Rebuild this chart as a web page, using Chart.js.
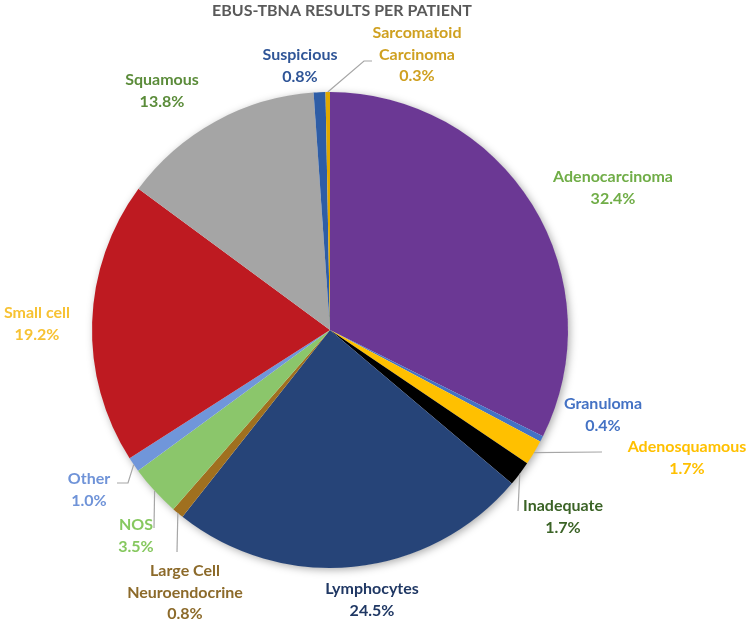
<!DOCTYPE html>
<html>
<head>
<meta charset="utf-8">
<script src="https://cdn.jsdelivr.net/npm/chart.js"></script>
<style>
  html, body { margin: 0; padding: 0; background: #fff; }
  #wrap { width: 752px; height: 624px; position: relative; }
</style>
</head>
<body>
<div id="wrap"><canvas id="chart" width="752" height="624"></canvas></div>
<script>
const title = "EBUS-TBNA RESULTS PER PATIENT";
const categories = [
  "Adenocarcinoma", "Granuloma", "Adenosquamous", "Inadequate", "Lymphocytes",
  "Large Cell Neuroendocrine", "NOS", "Other", "Small cell", "Squamous",
  "Suspicious", "Sarcomatoid Carcinoma"
];
const percents = [32.4, 0.4, 1.7, 1.7, 24.5, 0.8, 3.5, 1.0, 19.2, 13.8, 0.8, 0.3];

const sliceColors = [
  "#6b3894", "#4472c4", "#ffc000", "#000000", "#264478", "#a0701f",
  "#8bc66b", "#7096da", "#be1a21", "#a5a5a5", "#2e5da6", "#e0a800"
];
const labelColors = [
  "#70ad47", "#4472c4", "#ffc000", "#3b6326", "#203864", "#8c6a2a",
  "#86c85f", "#6f93d8", "#f7c233", "#5b8c3a", "#2f5597", "#cfa020"
];
// label lines and where they sit (centre x, first line y)
const labelLines = [
  ["Adenocarcinoma"], ["Granuloma"], ["Adenosquamous"], ["Inadequate"], ["Lymphocytes"],
  ["Large Cell", "Neuroendocrine"], ["NOS"], ["Other"], ["Small cell"], ["Squamous"],
  ["Suspicious"], ["Sarcomatoid", "Carcinoma"]
];
const labelPos = [
  [613, 177], [603, 404], [687, 447], [563, 506], [372, 589],
  [185, 571], [136, 525], [89, 479], [37, 313], [162, 80],
  [300, 55], [417, 33]
];
// leader lines: points after the slice edge point
const leaders = [
  null, null, [[602, 452]], [[518, 511]], null,
  [[177, 552]], [[154, 528]], [[128, 483], [117, 483]], null, null,
  null, [[364, 61], [372, 61]]
];

const pieShadow = {
  id: "pieShadow",
  beforeDatasetsDraw(chart) {
    const arc = chart.getDatasetMeta(0).data[0];
    const ctx = chart.ctx;
    ctx.save();
    ctx.shadowColor = "rgba(0,0,0,0.35)";
    ctx.shadowBlur = 9;
    ctx.shadowOffsetX = 2;
    ctx.shadowOffsetY = 2;
    ctx.fillStyle = "#ffffff";
    ctx.beginPath();
    ctx.arc(arc.x, arc.y, arc.outerRadius - 0.5, 0, Math.PI * 2);
    ctx.fill();
    ctx.restore();
  }
};

const outsideLabels = {
  id: "outsideLabels",
  afterDatasetsDraw(chart) {
    const ctx = chart.ctx;
    const arcs = chart.getDatasetMeta(0).data;
    ctx.save();
    // leaders
    ctx.strokeStyle = "#a6a6a6";
    ctx.lineWidth = 1.2;
    arcs.forEach((arc, i) => {
      if (!leaders[i]) return;
      const mid = (arc.startAngle + arc.endAngle) / 2;
      const r = arc.outerRadius;
      ctx.beginPath();
      ctx.moveTo(arc.x + Math.cos(mid) * r, arc.y + Math.sin(mid) * r);
      leaders[i].forEach(p => ctx.lineTo(p[0], p[1]));
      ctx.stroke();
    });
    // texts
    ctx.font = "bold 16px Lato, 'Open Sans', sans-serif";
    ctx.textAlign = "center";
    ctx.textBaseline = "middle";
    categories.forEach((c, i) => {
      const lines = labelLines[i].concat([percents[i].toFixed(1) + "%"]);
      ctx.fillStyle = labelColors[i];
      lines.forEach((t, k) => {
        ctx.fillText(t, labelPos[i][0], labelPos[i][1] + k * 21.5);
      });
    });
    // title
    ctx.fillStyle = "#595959";
    ctx.font = "bold 16px Lato, 'Open Sans', sans-serif";
    ctx.fillText(title, 342, 11);
    ctx.restore();
  }
};

new Chart(document.getElementById("chart"), {
  type: "pie",
  data: {
    labels: categories,
    datasets: [{
      data: percents,
      backgroundColor: sliceColors,
      borderWidth: 0
    }]
  },
  options: {
    responsive: false,
    animation: false,
    layout: {
      padding: { top: 92, bottom: 56, left: 92, right: 184 }
    },
    plugins: {
      legend: { display: false },
      tooltip: { enabled: false }
    }
  },
  plugins: [pieShadow, outsideLabels]
});
</script>
</body>
</html>
